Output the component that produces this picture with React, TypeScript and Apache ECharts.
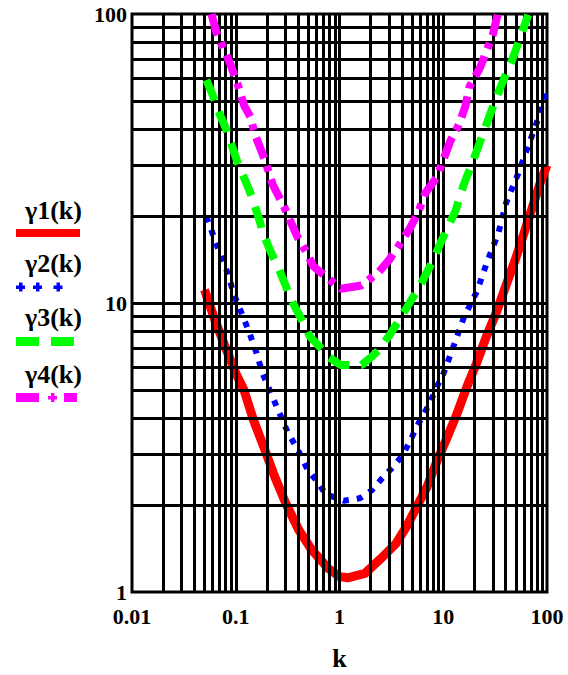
import React, { useEffect, useRef } from 'react';
import * as echarts from 'echarts';

// γ1(k): red solid
const k1 = [0.05, 0.063, 0.079, 0.1, 0.12, 0.148, 0.191, 0.237, 0.303, 0.405, 0.539, 0.773, 1.0, 1.2, 1.76, 2.58, 3.5, 4.41, 5.55, 6.98, 8.78, 11.0, 13.6, 16.9, 20.9, 26.0, 32.2, 39.9, 49.4, 57.1, 66.0, 76.1, 87.9, 100];
const g1 = [11.1, 8.73, 7.06, 5.72, 5.0, 3.94, 3.1, 2.51, 2.03, 1.64, 1.4, 1.21, 1.13, 1.12, 1.16, 1.32, 1.47, 1.68, 1.97, 2.31, 2.86, 3.45, 4.15, 5.13, 6.18, 7.64, 9.2, 11.4, 14.1, 16.5, 19.4, 22.7, 26.7, 30.0];

// γ2(k): blue dotted
const k2 = [0.052, 0.062, 0.071, 0.0843, 0.096, 0.114, 0.136, 0.159, 0.181, 0.22, 0.263, 0.315, 0.405, 0.495, 0.622, 0.733, 1.1, 1.57, 2.05, 2.54, 3.25, 4.02, 4.76, 5.47, 6.47, 7.43, 8.66, 10.07, 12.7, 15.9, 21.2, 26.5, 33.9, 40.5, 52.5, 66.0, 83.6, 100];
const g2 = [19.9, 16.8, 14.7, 12.6, 10.7, 9.22, 7.85, 6.7, 5.71, 4.84, 4.17, 3.59, 3.06, 2.64, 2.39, 2.18, 2.07, 2.11, 2.25, 2.46, 2.7, 2.96, 3.31, 3.7, 4.12, 4.5, 5.13, 5.71, 7.16, 8.97, 11.0, 13.9, 17.4, 22.3, 27.9, 35.0, 44.1, 56.0];

// γ3(k): green dashed
const k3 = [0.052, 0.0583, 0.0706, 0.0793, 0.096, 0.1035, 0.133, 0.143, 0.171, 0.181, 0.22, 0.254, 0.315, 0.351, 0.467, 0.52, 0.693, 0.773, 1.03, 1.63, 2.05, 2.39, 3.12, 4.41, 6.0, 7.84, 10.2, 13.1, 15.7, 19.5, 24.2, 28.9, 35.8, 46.1, 57.1, 66.0];
const g3 = [59.1, 53.8, 44.7, 40.7, 33.4, 30.8, 24.9, 23.3, 19.1, 17.6, 14.9, 13.4, 11.1, 10.1, 8.28, 7.64, 6.87, 6.52, 6.1, 6.1, 6.52, 6.87, 7.85, 9.59, 11.5, 13.9, 17.2, 20.8, 25.6, 31.2, 38.6, 45.9, 56.0, 69.3, 85.8, 99.3];

// γ4(k): magenta dash-dot
const k4 = [0.0583, 0.0655, 0.0826, 0.0893, 0.1035, 0.12, 0.138, 0.154, 0.191, 0.228, 0.293, 0.322, 0.391, 0.484, 0.56, 0.745, 1.03, 1.63, 2.39, 3.01, 3.78, 4.75, 5.75, 6.71, 8.77, 9.84, 11.8, 14.1, 16.3, 17.9, 22.5, 26.0, 30.0, 33.4];
const g4 = [100, 85.8, 71.2, 66.6, 57.6, 48.4, 44.1, 38.1, 31.2, 25.6, 21.5, 19.9, 17.0, 14.9, 13.4, 12.3, 11.2, 11.5, 12.8, 14.1, 15.9, 18.1, 20.6, 24.0, 27.4, 30.8, 36.6, 41.3, 47.8, 56.0, 64.9, 74.1, 84.6, 99.3];

const seriesNames = ['γ1(k)', 'γ2(k)', 'γ3(k)', 'γ4(k)'];
const xTickLabels = ['0.01', '0.1', '1', '10', '100'];
const yTickLabels = ['1', '10', '100'];
const xAxisName = 'k';
const xDecades = [0.01, 0.1, 1, 10];
const yDecades = [1, 10];
const multipliers = [1, 2, 3, 4, 5, 6, 7, 8, 9];

const FONT = '"Liberation Serif", "Times New Roman", serif';

export default function App() {
  const ref = useRef<HTMLDivElement>(null);
  useEffect(() => {
    const chart = echarts.init(ref.current as HTMLDivElement, null, { renderer: 'svg' });

    const gridX: number[] = [];
    xDecades.forEach((d) => multipliers.forEach((m) => {
      const v = +(d * m).toPrecision(6);
      if (v > 0.01 && v < 100) gridX.push(v);
    }));
    const gridY: number[] = [];
    yDecades.forEach((d) => multipliers.forEach((m) => {
      const v = +(d * m).toPrecision(6);
      if (v > 1 && v < 100) gridY.push(v);
    }));

    const pairs = (ks: number[], gs: number[]) => ks.map((k, i) => [k, gs[i]]);

    const legendText = (txt: string, y: number) => ({
      type: 'text',
      style: { text: txt, x: 25, y, fill: '#000', font: `bold 26px ${FONT}`, verticalAlign: 'middle', align: 'left' },
    });
    const rect = (x: number, y: number, w: number, h: number, color: string) => ({
      type: 'rect', shape: { x, y, width: w, height: h }, style: { fill: color },
    });
    const cross = (cx: number, cy: number, color: string) => ([
      rect(cx - 4.5, cy - 1.5, 9, 3.5, color),
      rect(cx - 1.5, cy - 4.5, 3.5, 9, color),
    ]);

    chart.setOption({
      animation: false,
      backgroundColor: '#fff',
      grid: {
        left: 132, top: 14, width: 415, height: 578,
        show: true, borderColor: '#000', borderWidth: 3, backgroundColor: 'transparent',
      },
      xAxis: {
        type: 'log', logBase: 10, min: 0.01, max: 100,
        axisLine: { show: false }, axisTick: { show: false }, splitLine: { show: false },
        axisLabel: {
          show: true, margin: 13, color: '#000', fontFamily: FONT, fontWeight: 'bold', fontSize: 22, lineHeight: 22,
          showMinLabel: true, showMaxLabel: true,
          formatter: (v: number) => xTickLabels[Math.round(Math.log10(v)) + 2] ?? '',
        },
      },
      yAxis: {
        type: 'log', logBase: 10, min: 1, max: 100,
        axisLine: { show: false }, axisTick: { show: false }, splitLine: { show: false },
        axisLabel: {
          show: true, margin: 5, color: '#000', fontFamily: FONT, fontWeight: 'bold', fontSize: 22, lineHeight: 20,
          showMinLabel: true, showMaxLabel: true,
          formatter: (v: number) => yTickLabels[Math.round(Math.log10(v))] ?? '',
        },
      },
      graphic: [
        { type: 'text', style: { text: xAxisName, x: 339.5, y: 658, fill: '#000', font: `bold 26px ${FONT}`, align: 'center', verticalAlign: 'middle' } },
        legendText(seriesNames[0], 210),
        rect(16, 229, 64, 8, '#ff0000'),
        legendText(seriesNames[1], 263),
        ...cross(20.5, 287, '#0000ff'),
        ...cross(37.5, 287, '#0000ff'),
        ...cross(58, 287, '#0000ff'),
        legendText(seriesNames[2], 317.5),
        rect(16, 337, 23, 9, '#00ff00'),
        rect(51, 337, 23, 9, '#00ff00'),
        legendText(seriesNames[3], 374.5),
        rect(16, 393, 23, 9, '#ff00ff'),
        ...cross(52.5, 397.5, '#ff00ff'),
        rect(64, 393, 13, 9, '#ff00ff'),
      ],
      series: [
        {
          type: 'line', name: 'grid', data: [[1, 10]], showSymbol: false, silent: true, z: 1,
          lineStyle: { width: 0, opacity: 0 },
          markLine: {
            silent: true, symbol: ['none', 'none'], label: { show: false },
            lineStyle: { color: '#000', width: 3, type: 'solid', opacity: 1 },
            emphasis: { disabled: true },
            data: [
              ...gridX.map((v) => ({ xAxis: v })),
              ...gridY.map((v) => ({ yAxis: v })),
            ],
          },
        },
        {
          type: 'line', name: seriesNames[0], data: pairs(k1, g1), showSymbol: false, z: 3,
          lineStyle: { color: '#ff0000', width: 9, cap: 'butt', join: 'round' },
        },
        {
          type: 'line', name: seriesNames[1], data: pairs(k2, g2), showSymbol: false, z: 4,
          lineStyle: { color: '#0000ff', width: 6, type: [6, 8], cap: 'butt' },
        },
        {
          type: 'line', name: seriesNames[2], data: pairs(k3, g3), showSymbol: false, z: 5,
          lineStyle: { color: '#00ff00', width: 8, type: [22, 12], cap: 'butt' },
        },
        {
          type: 'line', name: seriesNames[3], data: pairs(k4, g4), showSymbol: false, z: 6,
          lineStyle: { color: '#ff00ff', width: 8, type: [22, 8, 6, 8], cap: 'butt' },
        },
      ],
    });
    return () => chart.dispose();
  }, []);
  return <div ref={ref} style={{ position: 'fixed', left: 0, top: 0, width: 568, height: 675, background: '#fff' }} />;
}
